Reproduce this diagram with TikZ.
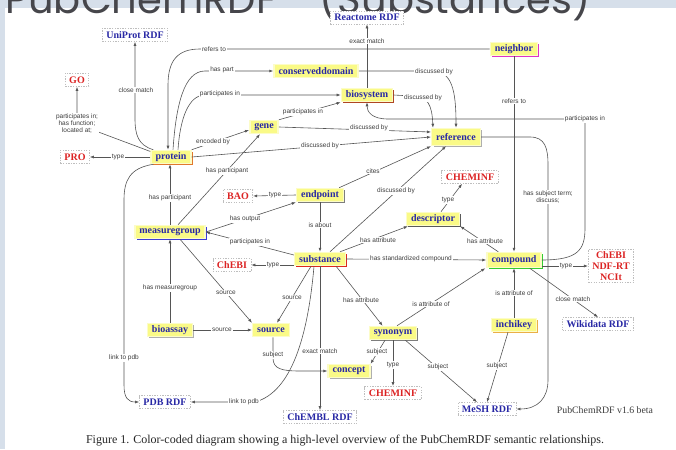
\documentclass[tikz,border=0pt]{standalone}
\usepackage{graphicx}
\usepackage{fontspec}
\setmainfont{Liberation Serif}
\setsansfont{Liberation Sans}
\newfontfamily\titlefnt{Poppins}
\usetikzlibrary{shadows,arrows.meta}
\definecolor{bgblue}{RGB}{214,223,234}
\definecolor{titlegray}{RGB}{70,70,75}
\definecolor{yfill}{RGB}{250,250,135}
\definecolor{yglow}{RGB}{252,252,200}
\definecolor{nblue}{RGB}{40,40,165}
\definecolor{nred}{RGB}{220,35,35}
\definecolor{dashgray}{RGB}{190,190,190}
\definecolor{lgray}{RGB}{85,85,85}
\definecolor{ltext}{RGB}{60,60,60}
\definecolor{shOrange}{RGB}{225,120,45}
\definecolor{shBrown}{RGB}{175,70,35}
\definecolor{shMagenta}{RGB}{220,50,200}
\definecolor{shBlue}{RGB}{60,60,215}
\definecolor{shRed}{RGB}{220,40,30}
\definecolor{shGreen}{RGB}{50,205,50}
\definecolor{shGray}{RGB}{125,125,125}
\definecolor{shDark}{RGB}{90,90,90}
\definecolor{shLight}{RGB}{175,175,175}
\definecolor{shOr2}{RGB}{235,175,70}
\newcommand\nodefnt{\rmfamily\bfseries\fontsize{10}{11}\selectfont}
\newcommand\lblfnt{\sffamily\fontsize{6.5}{7}\selectfont}
\tikzset{
  ybox/.style={fill=yfill, draw=yglow, line width=1.5pt, font=\nodefnt, text=nblue,
    inner xsep=4.5pt, inner ysep=2pt, minimum height=13pt},
  sh/.style={drop shadow={shadow xshift=1.8pt, shadow yshift=-1.8pt, fill=#1, opacity=1}},
  xbox/.style={draw=dashgray, dash pattern=on 1.3pt off 1.3pt, line width=.7pt, fill=white,
    font=\nodefnt, inner xsep=4pt, inner ysep=2pt, minimum height=13pt},
  xblue/.style={xbox, text=nblue},
  xred/.style={xbox, text=nred},
  edge/.style={draw=lgray, line width=.6pt, -{Latex[length=4pt,width=3pt]}},
  lbl/.style={font=\lblfnt, text=ltext, fill=white, inner sep=0.8pt}
}
\begin{document}
\begin{tikzpicture}[x=1pt,y=-1pt]
\useasboundingbox (0,0) rectangle (676,449);
\clip (0,0) rectangle (676,449);
\fill[bgblue] (0,0) rectangle (676,449);
\fill[white] (5,8) rectangle (676,449);
\node[anchor=base west, inner sep=0, text=titlegray] (title) at (5,13.5)
  {\resizebox{585pt}{!}{\titlefnt PubChemRDF - (Substances)}};

% main nodes
\node[ybox, sh=shOrange] (protein) at (171,157) {protein};
\node[ybox] (cdomain) at (316,71) {conserveddomain};
\node[ybox, sh=shBrown] (biosystem) at (367,95) {biosystem};
\node[ybox] (gene) at (264,127) {gene};
\node[ybox, sh=shLight, minimum height=17pt] (reference) at (456,137) {reference};
\node[ybox, sh=shMagenta] (neighbor) at (514,49) {neighbor};
\node[ybox, sh=shGray] (endpoint) at (320,195) {endpoint};
\node[ybox, sh=shDark] (descriptor) at (433,219) {descriptor};
\node[ybox, sh=shBlue] (measuregroup) at (170,232) {measuregroup};
\node[ybox, sh=shRed] (substance) at (320,259) {substance};
\node[ybox, sh=shGreen, minimum height=15pt] (compound) at (514,260) {compound};
\node[ybox, sh=shLight] (bioassay) at (170,330) {bioassay};
\node[ybox] (source) at (271,330) {source};
\node[ybox, sh=shGray] (synonym) at (393,333) {synonym};
\node[ybox, sh=shOr2] (inchikey) at (514,325) {inchikey};
\node[ybox, sh=shLight] (concept) at (349,371) {concept};

% external nodes
\node[xblue] (uniprot) at (135,35) {UniProt RDF};
\node[xblue] (reactome) at (367,17.5) {Reactome RDF};
\node[xred] (go) at (77,80) {GO};
\node[xred] (pro) at (75,157) {PRO};
\node[xred] (bao) at (238,196) {BAO};
\node[xred] (cheminf1) at (470,177) {CHEMINF};
\node[xred] (chebi1) at (232,265) {ChEBI};
\node[xred, align=center] (chebi2) at (611,266) {ChEBI\\NDF-RT\\NCIt};
\node[xblue] (wikidata) at (598,324) {Wikidata RDF};
\node[xred] (cheminf2) at (393,393) {CHEMINF};
\node[xblue] (pdb) at (165,402) {PDB RDF};
\node[xblue] (chembl) at (320,417) {ChEMBL RDF};
\node[xblue] (mesh) at (487,409) {MeSH RDF};

% edges
\draw[edge] ([xshift=3pt]protein.north west) .. controls (138,145) and (135,135) .. (135,118) -- (uniprot.south);
\draw[edge] (protein.165) -- (77,124) -- (go.south);
\draw[edge] (protein.west) -- (pro.east);
\draw[edge] (neighbor.west) -- (200,49) .. controls (178,49) and (168,60) .. (168,85) -- ([xshift=-3pt]protein.north);
\draw[edge] ([xshift=2pt]protein.north) .. controls (176,105) and (184,71) .. (205,71) -- (cdomain.west);
\draw[edge] ([xshift=7pt]protein.north) .. controls (180,120) and (188,95) .. (205,95) -- (biosystem.west);
\draw[edge] (biosystem.north) -- (reactome.south);
\draw[edge] (protein.north east) -- ([yshift=-3pt]gene.west);
\draw[edge] (gene.north east) -- (biosystem.south west);
\draw[edge] (gene.east) -- ([yshift=5pt]reference.west);
\draw[edge] (protein.east) -- (reference.west);
\draw[edge] (cdomain.east) -- (432,71) .. controls (452,71) and (456,90) .. (reference.north);
\draw[edge] (biosystem.east) -- (412,96) .. controls (428,96) and (432,105) .. ([xshift=2pt]reference.north west);
\draw[edge] (compound.east) .. controls (578,260) and (585,250) .. (585,228) -- (585,119) -- (388,119) .. controls (372,119) and (367,112) .. (biosystem.south);
\draw[edge] (neighbor.south) -- (compound.north);
\draw[edge] (reference.east) -- (530,137) .. controls (545,137) and (548,148) .. (548,165) -- (548,380) .. controls (548,398) and (538,409) .. (mesh.east);
\draw[edge] ([xshift=8pt]descriptor.north) -- ([xshift=-8pt]cheminf1.south);
\draw[edge] ([xshift=12pt]compound.north west) -- (descriptor.south east);
\draw[edge] ([xshift=-6pt]substance.north east) -- ([xshift=2pt]descriptor.south west);
\draw[edge] (substance.east) -- (compound.west);
\draw[edge] ([yshift=-6pt]compound.east) -- ([yshift=-6pt]compound.east -| chebi2.west);
\draw[edge] ([xshift=-12pt]compound.south east) -- (wikidata.north);
\draw[edge] ([xshift=4pt]synonym.north) -- ([xshift=-1pt]compound.south west);
\draw[edge] (inchikey.north) -- (compound.south);
\draw[edge] ([xshift=-6pt]inchikey.south) -- (mesh.north);
\draw[edge] ([xshift=-12pt]synonym.south east) -- ([xshift=-10pt]mesh.north);
\draw[edge, line width=1pt] (synonym.south) -- (cheminf2.north);
\draw[edge] ([xshift=-8pt]synonym.south) -- (concept.north east);
\draw[edge] ([xshift=-10pt]substance.south east) -- ([xshift=14pt]synonym.north west);
\draw[edge] ([xshift=-9pt]substance.south) -- ([xshift=6pt]source.north);
\draw[edge] ([xshift=10pt]measuregroup.south) -- (source.north west);
\draw[edge] (bioassay.east) -- (source.west);
\draw[edge] (bioassay.north) -- (measuregroup.south);
\draw[edge] (measuregroup.north) -- (measuregroup.north |- protein.south);
\draw[edge] ([xshift=8pt]measuregroup.north) -- ([xshift=-4pt]gene.south);
\draw[edge] (measuregroup.east) -- (endpoint.south west);
\draw[edge] ([yshift=4pt]substance.west) -- (measuregroup.east);
\draw[edge] (endpoint.west) -- (bao.east);
\draw[edge] (endpoint.south) -- (substance.north);
\draw[edge] ([xshift=-5pt]endpoint.north east) -- (reference.south west);
\draw[edge] ([xshift=10pt]substance.north) -- ([xshift=-10pt]reference.south);
\draw[edge] ([yshift=-6pt]substance.west) -- ([yshift=-6pt]substance.west -| chebi1.east);
\draw[edge] (substance.south) -- (substance.south |- chembl.north);
\draw[edge] ([xshift=-6pt]substance.south) .. controls (308,335) and (292,392) .. (255,402) -- (pdb.east);
\draw[edge] ([xshift=3pt]protein.south west) .. controls (130,168) and (124,180) .. (124,200) -- (124,385) .. controls (124,398) and (128,402) .. (pdb.west);
\draw[edge] ([xshift=2pt]source.south) -- (273,358) .. controls (273,369) and (282,371) .. (300,371) -- (concept.west);

% labels
\node[lbl] (l1) at (136,90) {close match};
\node[lbl, align=center] (l2) at (77,124) {participates in;\\has function;\\located at;};
\node[lbl] (l3) at (118,157) {type};
\node[lbl] (l4) at (214,49) {refers to};
\node[lbl] (l5) at (222,70) {has part};
\node[lbl] (l6) at (220,94) {participates in};
\node[lbl] (l7) at (367,41) {exact match};
\node[lbl] (l8) at (213,142) {encoded by};
\node[lbl] (l9) at (303,112) {participates in};
\node[lbl] (l10) at (369,128) {discussed by};
\node[lbl] (l11) at (320,146) {discussed by};
\node[lbl] (l12) at (434,72) {discussed by};
\node[lbl] (l13) at (423,98) {discussed by};
\node[lbl] (l14) at (585,119) {participates in};
\node[lbl] (l15) at (514,101) {refers to};
\node[lbl, align=center] (l16) at (548,197) {has subject term;\\discuss;};
\node[lbl] (l17) at (448,200) {type};
\node[lbl] (l18) at (485,241) {has attribute};
\node[lbl] (l19) at (378,240) {has attribute};
\node[lbl] (l20) at (411,259) {has standardized compound};
\node[lbl] (l21) at (566,266) {type};
\node[lbl] (l22) at (573,299) {close match};
\node[lbl] (l23) at (431,304) {is attribute of};
\node[lbl] (l24) at (514,293) {is attribute of};
\node[lbl] (l25) at (497,366) {subject};
\node[lbl] (l26) at (438,367) {subject};
\node[lbl] (l27) at (393,365) {type};
\node[lbl] (l28) at (377,352) {subject};
\node[lbl] (l29) at (361,300) {has attribute};
\node[lbl] (l30) at (292,298) {source};
\node[lbl] (l31) at (226,293) {source};
\node[lbl] (l32) at (222,330) {source};
\node[lbl] (l33) at (170,288) {has measuregroup};
\node[lbl] (l34) at (170,198) {has participant};
\node[lbl] (l35) at (227,171) {has participant};
\node[lbl] (l36) at (245,219) {has output};
\node[lbl] (l37) at (250,242) {participates in};
\node[lbl] (l38) at (275,195) {type};
\node[lbl] (l39) at (320,225) {is about};
\node[lbl] (l40) at (373,171) {cites};
\node[lbl] (l41) at (396,191) {discussed by};
\node[lbl] (l42) at (273,265) {type};
\node[lbl] (l43) at (320,351) {exact match};
\node[lbl] (l44) at (244,402) {link to pdb};
\node[lbl] (l45) at (124,358) {link to pdb};
\node[lbl] (l46) at (273,355) {subject};

% texts
\node[font=\rmfamily\fontsize{9.8}{11}\selectfont, text=ltext] (ver) at (605,410) {PubChemRDF v1.6 beta};
\node[font=\rmfamily\fontsize{12}{13}\selectfont, text=black!85] (caption) at (345,441)
  {Figure 1. Color-coded diagram showing a high-level overview of the PubChemRDF semantic relationships.};
\end{tikzpicture}
\end{document}
